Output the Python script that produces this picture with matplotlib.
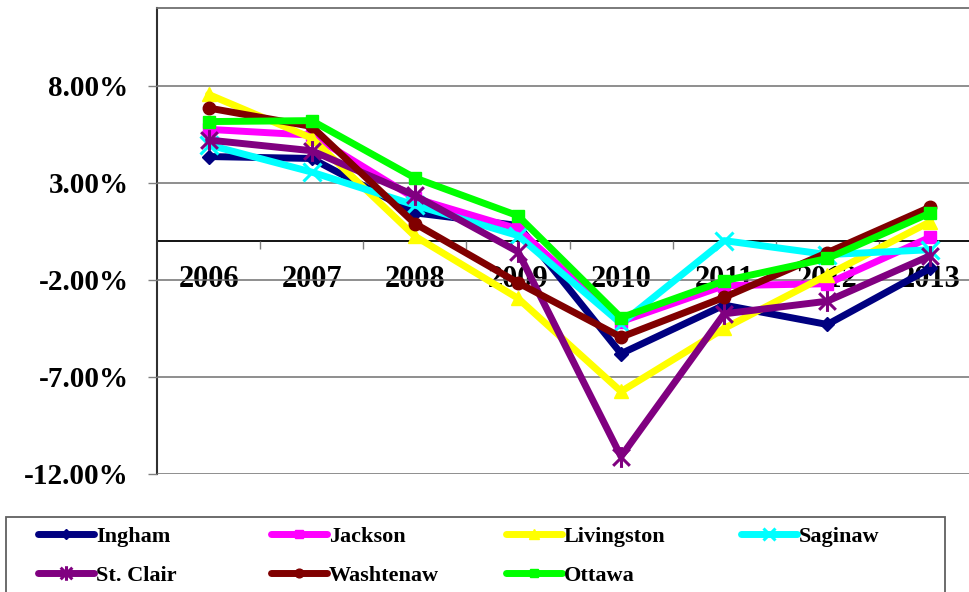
import matplotlib
matplotlib.use("Agg")
import matplotlib.pyplot as plt
from matplotlib.path import Path
from matplotlib.ticker import FixedLocator, FuncFormatter
from matplotlib.patches import Rectangle

# ---------------- data ----------------
years = ["2006", "2007", "2008", "2009", "2010", "2011", "2012", "2013"]
ingham     = [4.35, 4.25, 1.45, 0.80, -5.80, -3.30, -4.30, -1.40]
jackson    = [5.75, 5.45, 2.20, 0.62, -4.15, -2.30, -2.20, 0.20]
livingston = [7.55, 5.30, 0.25, -2.95, -7.75, -4.50, -1.75, 1.00]
saginaw    = [4.95, 3.55, 1.85, 0.28, -4.25, 0.02, -0.70, -0.45]
st_clair   = [5.20, 4.65, 2.35, -0.55, -11.10, -3.75, -3.10, -0.75]
washtenaw  = [6.85, 5.90, 0.90, -2.15, -4.95, -2.90, -0.60, 1.75]
ottawa     = [6.15, 6.20, 3.25, 1.30, -3.95, -2.05, -0.90, 1.45]
y_ticks = [-12, -7, -2, 3, 8]

names = ["Ingham", "Jackson", "Livingston", "Saginaw", "St. Clair", "Washtenaw", "Ottawa"]
series = [ingham, jackson, livingston, saginaw, st_clair, washtenaw, ottawa]

# ---------------- style ----------------
colors = ["#000080", "#FF00FF", "#FFFF00", "#00FFFF", "#800080", "#800000", "#00FF00"]
star = Path([(-1, -1), (1, 1), (-1, 1), (1, -1), (0, -1.25), (0, 1.25)],
            [Path.MOVETO, Path.LINETO, Path.MOVETO, Path.LINETO, Path.MOVETO, Path.LINETO])
markers = ["D", "s", "^", "x", star, "o", "s"]
msizes = [7, 8, 10, 13, 15, 9, 8]
mews = [1, 1, 1, 2.2, 2.2, 1, 1]

plt.rcParams["font.family"] = ["Liberation Serif", "DejaVu Serif"]
plt.rcParams["font.weight"] = "bold"

fig = plt.figure(figsize=(9.69, 5.92), dpi=100)
W, H = 969, 592
ax = fig.add_axes([157 / W, 1 - 474 / H, (982 - 157) / W, (474 - 8) / H])

x = list(range(len(years)))
lines = []
for i, (nm, vals) in enumerate(zip(names, series)):
    ln, = ax.plot(x, vals, color=colors[i], lw=5, marker=markers[i], ms=msizes[i],
                  mec=colors[i], mfc=colors[i], mew=mews[i], label=nm,
                  solid_joinstyle="round", solid_capstyle="round", zorder=3 + i,
                  clip_on=False)
    lines.append(ln)

ax.set_xlim(-0.5, len(years) - 0.5)
ax.set_ylim(-12, 12)

# y axis
ax.yaxis.set_major_locator(FixedLocator(y_ticks))
ax.yaxis.set_major_formatter(FuncFormatter(lambda v, p: f"{v:.2f}%"))
ax.tick_params(axis="y", direction="out", length=6.5, width=1, color="#808080",
               labelsize=21, pad=14)
ax.grid(axis="y", color="#707070", lw=1.1, zorder=1)
ax.grid(axis="x", visible=False)

# x axis: spine at zero, boundary ticks, labels centred on categories
ax.spines["bottom"].set_position(("data", 0))
ax.spines["bottom"].set_color("black")
ax.spines["bottom"].set_linewidth(1.3)
ax.spines["bottom"].set_zorder(2)
ax.xaxis.set_major_locator(FixedLocator([k - 0.5 for k in range(1, len(years))]))
ax.xaxis.set_major_formatter(FuncFormatter(lambda v, p: ""))
ax.xaxis.set_minor_locator(FixedLocator(x))
ax.set_xticklabels(years, minor=True)
ax.tick_params(axis="x", which="major", direction="out", length=6, width=1, color="#808080")
ax.tick_params(axis="x", which="minor", length=0, labelsize=22, pad=17)
for lab in ax.get_xticklabels(minor=True):
    lab.set_zorder(20)

ax.spines["left"].set_color("#303030")
ax.spines["left"].set_linewidth(1.5)
ax.spines["top"].set_color("#707070")
ax.spines["top"].set_linewidth(1.3)
ax.spines["right"].set_visible(False)
ax.set_axisbelow(False)

# ---------------- legend ----------------
col_x = [38, 271, 506, 741]
rows = [[0, 4], [1, 5], [2, 6], [3]]
for cx, idx in zip(col_x, rows):
    leg = fig.legend([lines[j] for j in idx], [names[j] for j in idx],
                     loc="upper left", bbox_to_anchor=(cx / W, 1 - 526 / H),
                     frameon=False, fontsize=16, handlelength=2.5, handletextpad=0.1,
                     labelspacing=0.85, borderaxespad=0, borderpad=0, numpoints=1,
                     markerscale=0.7)
fig.patches.append(Rectangle((6 / W, -0.05), (945 - 6) / W, 0.05 + (592 - 517) / H,
                             transform=fig.transFigure, fill=False,
                             edgecolor="#606060", lw=1.3))

fig.savefig("out.png", dpi=100)
